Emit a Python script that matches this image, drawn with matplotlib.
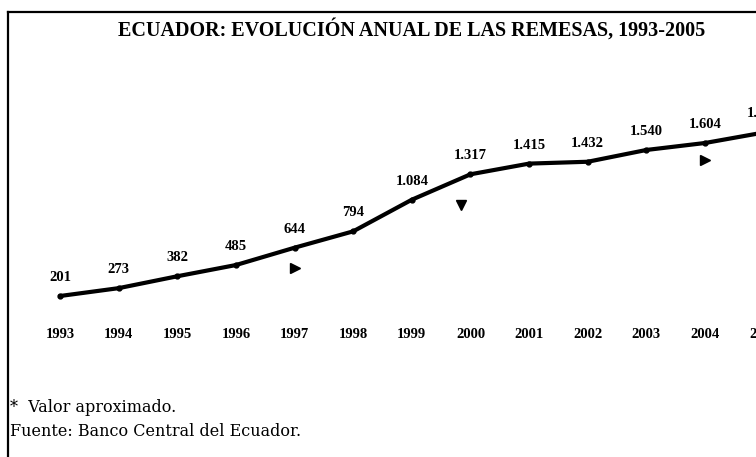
import matplotlib.pyplot as plt
import matplotlib.transforms as mtransforms
from matplotlib.lines import Line2D

# remesas anuales (millones de USD), 2005 aproximado y cortado en el borde
anios = [1993, 1994, 1995, 1996, 1997, 1998, 1999, 2000, 2001, 2002, 2003, 2004, 2005]
remesas = [201, 273, 382, 485, 644, 794, 1084, 1317, 1415, 1432, 1540, 1604, 1700]
etiquetas = ['201', '273', '382', '485', '644', '794', '1.084', '1.317',
             '1.415', '1.432', '1.540', '1.604', '1.700']

# triangulitos sueltos del grafico original
tri_x = [1997.0, 1999.83, 2004.0]
tri_y = [458, 1036, 1449]
tri_m = ['>', 'v', '>']

W, H = 756, 457
fig = plt.figure(figsize=(W / 100, H / 100), dpi=100)
ax = fig.add_axes([0, 0, 1, 1])
ax.set_xlim(1991.977, 2004.869)
ax.set_ylim(-1275, 2915)
ax.axis('off')

ax.plot(anios, remesas, color='black', lw=3.0, marker='o', ms=3.5,
        solid_capstyle='round', clip_on=False)

for x, y, t in zip(anios, remesas, etiquetas):
    ax.text(x, y + 170, t, ha='center', va='center', fontsize=10.5,
            fontweight='bold', family='Liberation Serif')

for x, y, m in zip(tri_x, tri_y, tri_m):
    ax.plot(x, y, marker=m, color='black', ms=7, ls='none')

trans = mtransforms.blended_transform_factory(ax.transData, ax.transAxes)
for x in anios:
    ax.text(x, 1 - 335 / H, str(x), transform=trans, ha='center', va='center',
            fontsize=10.5, fontweight='bold', family='Liberation Serif')

fig.text(412 / W, 1 - 30 / H, 'ECUADOR: EVOLUCIÓN ANUAL DE LAS REMESAS, 1993-2005',
         ha='center', va='center', fontsize=14.5, fontweight='bold',
         family='Liberation Serif')

fig.text(10 / W, 1 - 408 / H, '*  Valor aproximado.', ha='left', va='center',
         fontsize=11.5, family='DejaVu Serif')
fig.text(10 / W, 1 - 431 / H, 'Fuente: Banco Central del Ecuador.', ha='left',
         va='center', fontsize=11.5, family='DejaVu Serif')

# marco
fig.add_artist(Line2D([8 / W, 8 / W], [0, 1 - 12 / H], color='black', lw=1.6,
                      transform=fig.transFigure))
fig.add_artist(Line2D([8 / W, 1], [1 - 12 / H, 1 - 12 / H], color='black', lw=1.6,
                      transform=fig.transFigure))

fig.savefig('out.png', dpi=100)
